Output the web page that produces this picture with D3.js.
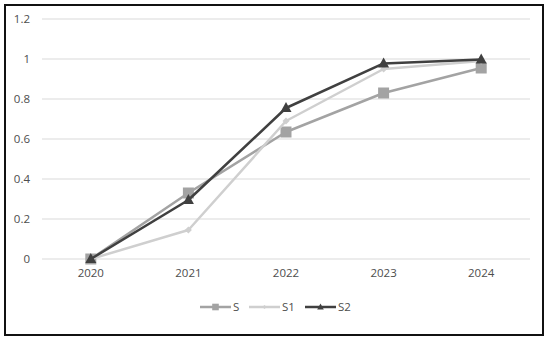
<!DOCTYPE html>
<html>
<head>
<meta charset="utf-8">
<script src="https://cdn.jsdelivr.net/npm/d3@7"></script>
<style>
  body { margin: 0; background: #fff; }
  text { font-family: "Open Sans", "Liberation Sans", sans-serif; }
</style>
</head>
<body>
<div id="chart"></div>
<script>
var years = ['2020', '2021', '2022', '2023', '2024'];
var yTicks = [0, 0.2, 0.4, 0.6, 0.8, 1, 1.2];
var valuesS = [0, 0.33, 0.635, 0.83, 0.955];
var valuesS1 = [0, 0.145, 0.69, 0.95, 0.99];
var valuesS2 = [0, 0.295, 0.755, 0.978, 0.998];

var series = [
  { name: 'S', values: valuesS, color: '#a3a3a3', marker: 'square' },
  { name: 'S1', values: valuesS1, color: '#cfcfcf', marker: 'diamond' },
  { name: 'S2', values: valuesS2, color: '#404040', marker: 'triangle' }
];

var width = 550, height = 342;

var svg = d3.select('#chart').append('svg')
    .attr('width', width)
    .attr('height', height);

// outer frame
svg.append('rect')
    .attr('x', 5)
    .attr('y', 5)
    .attr('width', 538)
    .attr('height', 330)
    .attr('fill', '#fff')
    .attr('stroke', '#111')
    .attr('stroke-width', 2);

var x = d3.scaleBand()
    .domain(years)
    .range([42, 530]);

var y = d3.scaleLinear()
    .domain([0, 1.2])
    .range([259, 19]);

// gridlines
svg.append('g')
  .selectAll('line')
    .data(yTicks)
    .enter()
  .append('line')
    .attr('x1', 42)
    .attr('x2', 530)
    .attr('y1', function (d) { return y(d); })
    .attr('y2', function (d) { return y(d); })
    .attr('stroke', '#d9d9d9')
    .attr('stroke-width', 1);

// y axis labels
var yAxis = svg.append('g')
    .attr('transform', 'translate(42,0)')
    .call(d3.axisLeft(y).tickValues(yTicks).tickSize(0).tickPadding(12)
      .tickFormat(function (d) { return String(+d.toFixed(1)); }));
yAxis.select('.domain').remove();
yAxis.selectAll('text')
    .attr('fill', '#4d4d4d')
    .style('font-size', '11.5px');

// x axis labels
var xAxis = svg.append('g')
    .attr('transform', 'translate(0,259)')
    .call(d3.axisBottom(x).tickSize(0).tickPadding(10));
xAxis.select('.domain').remove();
xAxis.selectAll('text')
    .attr('fill', '#4d4d4d')
    .style('font-size', '11.5px');

function cx(i) { return x(years[i]) + x.bandwidth() / 2; }

var line = d3.line()
    .x(function (d, i) { return cx(i); })
    .y(function (d) { return y(d); });

function drawMarker(g, type, px, py, color, scale) {
  scale = scale || 1;
  if (type === 'square') {
    var s = 11 * scale;
    g.append('rect')
        .attr('x', px - s / 2).attr('y', py - s / 2)
        .attr('width', s).attr('height', s)
        .attr('fill', color);
  } else if (type === 'diamond') {
    var r = 3.5 * scale;
    g.append('path')
        .attr('d', 'M' + px + ',' + (py - r) + 'L' + (px + r) + ',' + py + 'L' + px + ',' + (py + r) + 'L' + (px - r) + ',' + py + 'Z')
        .attr('fill', color);
  } else {
    var h = 10 * scale, w = 11 * scale;
    g.append('path')
        .attr('d', 'M' + px + ',' + (py - h * 0.6) + 'L' + (px + w / 2) + ',' + (py + h * 0.4) + 'L' + (px - w / 2) + ',' + (py + h * 0.4) + 'Z')
        .attr('fill', color);
  }
}

var plot = svg.append('g');

series.forEach(function (s) {
  var g = plot.append('g');
  g.append('path')
      .datum(s.values)
      .attr('d', line)
      .attr('fill', 'none')
      .attr('stroke', s.color)
      .attr('stroke-width', 2.5)
      .attr('stroke-linejoin', 'round');
  s.values.forEach(function (v, i) {
    drawMarker(g, s.marker, cx(i), y(v), s.color);
  });
});

// legend
var legendX = [200, 249, 305];
var legend = svg.append('g')
    .attr('transform', 'translate(0,307)');

series.forEach(function (s, i) {
  var lx = legendX[i];
  legend.append('line')
      .attr('x1', lx).attr('x2', lx + 31)
      .attr('y1', 0).attr('y2', 0)
      .attr('stroke', s.color)
      .attr('stroke-width', 2.5);
  drawMarker(legend, s.marker, lx + 15.5, 0, s.color, 0.6);
  legend.append('text')
      .attr('x', lx + 33)
      .attr('y', 4)
      .attr('fill', '#4d4d4d')
      .style('font-size', '11.5px')
      .text(s.name);
});
</script>
</body>
</html>
